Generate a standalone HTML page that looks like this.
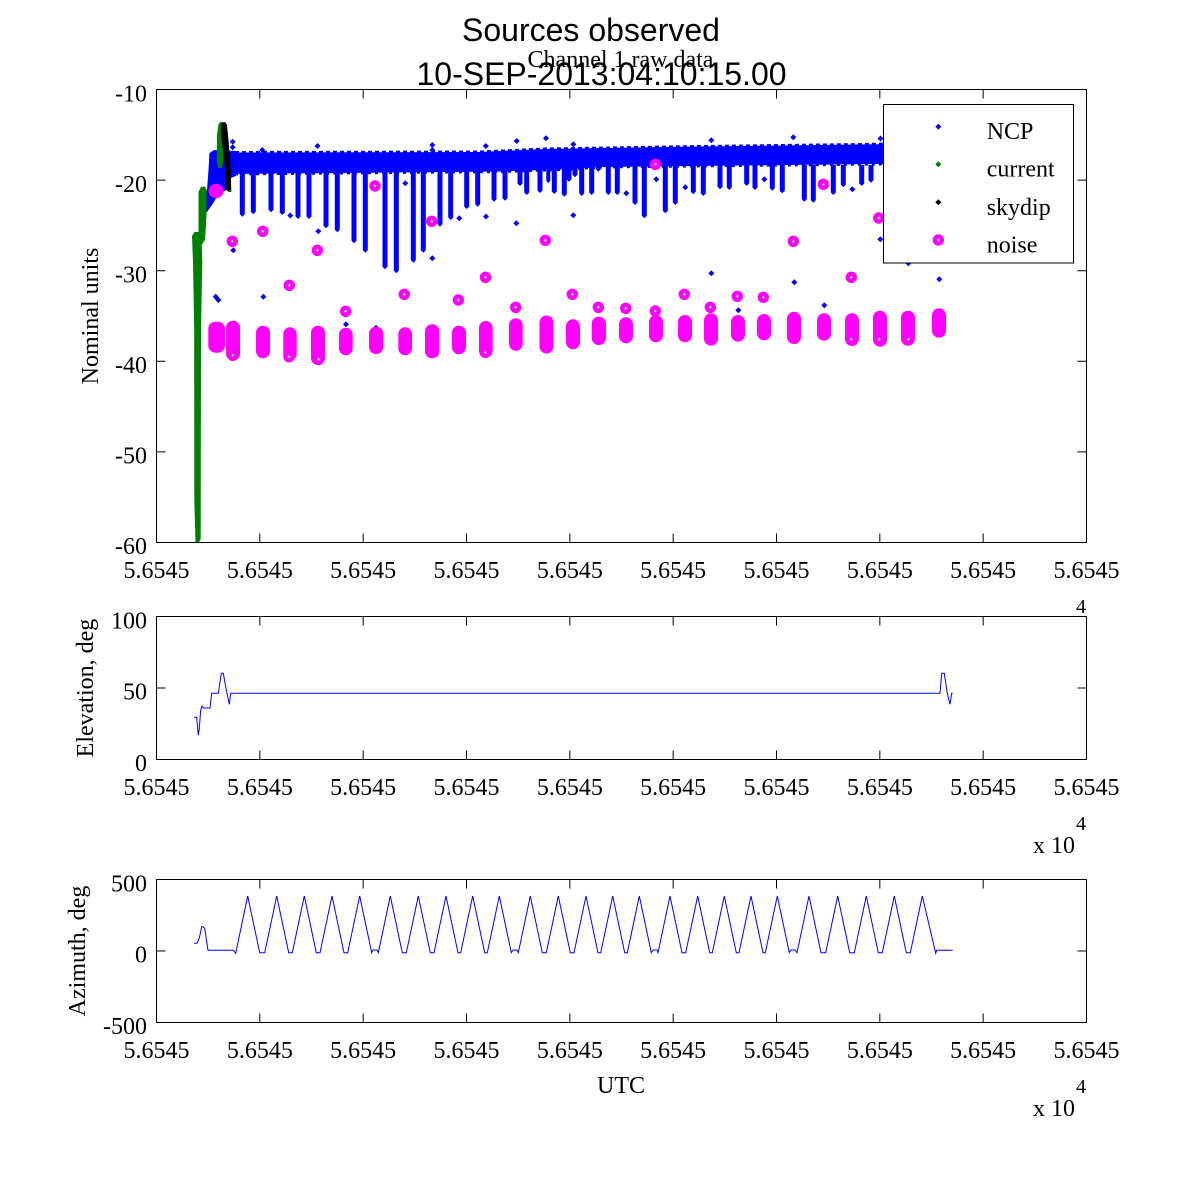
<!DOCTYPE html>
<html><head><meta charset="utf-8"><style>
html,body{margin:0;padding:0;background:#fff;}
svg{display:block;}
.t{font-family:"Liberation Serif",serif;font-size:24px;fill:#000;}
.s{font-family:"Liberation Sans",sans-serif;font-size:32px;fill:#000;}
</style></head><body>
<svg width="1200" height="1200" viewBox="0 0 1200 1200" xmlns="http://www.w3.org/2000/svg">
<rect width="1200" height="1200" fill="#fff"/>

<!-- ===== MAIN PLOT ===== -->
<!-- NCP band -->
<polygon fill="#0000ff" points="228,152.5 480,152 545,149 700,146.5 860,144.5 945,143 945,164 880,164 600,167 560,169.5 500,171.5 228,174"/>
<polyline fill="none" stroke="#0000ff" stroke-width="3" stroke-dasharray="4 3" points="228,152.5 480,152 545,149 700,146.5 860,144.5 945,143"/>
<polyline fill="none" stroke="#0000ff" stroke-width="3" stroke-dasharray="3 4" points="228,174 500,171.5 560,169.5 600,167 880,164 945,164"/>
<!-- left blue region -->
<polygon fill="#0000ff" points="209.5,153 214,150 236,151 236,176 231,178 226,190 218,195 212,205 207,212 203.5,211.5 204,200 207,190 208.5,170"/>
<!-- spikes -->
<path fill="#0000ff" d="M239.8 165h5V214.2l-2.5 2.5l-2.5-2.5z M250.8 165h5V211.8l-2.5 2.5l-2.5-2.5z M268.5 165h5V209.8l-2.5 2.5l-2.5-2.5z M279.8 165h5V212.5l-2.5 2.5l-2.5-2.5z M295.5 165h5V216.5l-2.5 2.5l-2.5-2.5z M306.5 165h5V216.5l-2.5 2.5l-2.5-2.5z M323.5 165h5V225.8l-2.5 2.5l-2.5-2.5z M334.8 165h5V229.8l-2.5 2.5l-2.5-2.5z M351.5 165h5V240.8l-2.5 2.5l-2.5-2.5z M362.8 165h5V250.2l-2.5 2.5l-2.5-2.5z M382.5 165h5V266.8l-2.5 2.5l-2.5-2.5z M393.8 165h5V270.8l-2.5 2.5l-2.5-2.5z M410.8 165h5V260.2l-2.5 2.5l-2.5-2.5z M420.8 165h5V250.2l-2.5 2.5l-2.5-2.5z M437.5 165h5V224.2l-2.5 2.5l-2.5-2.5z M448.2 165h5V217.5l-2.5 2.5l-2.5-2.5z M464.2 165h5V206.5l-2.5 2.5l-2.5-2.5z M475.2 165h5V204.2l-2.5 2.5l-2.5-2.5z M491.5 165h5V199.2l-2.5 2.5l-2.5-2.5z M502.5 165h5V198.2l-2.5 2.5l-2.5-2.5z M517.5 165h5V183.5l-2.5 2.5l-2.5-2.5z M524.2 165h5V192.5l-2.5 2.5l-2.5-2.5z M537.5 165h5V190.5l-2.5 2.5l-2.5-2.5z M546.3 165h4V180.8l-2 2.5l-2-2.5z M551.8 165h5V191.5l-2.5 2.5l-2.5-2.5z M561.8 165h5V194.2l-2.5 2.5l-2.5-2.5z M566.5 165h5V179.2l-2.5 2.5l-2.5-2.5z M572.5 165h5V174.8l-2.5 2.5l-2.5-2.5z M579.2 165h5V193.5l-2.5 2.5l-2.5-2.5z M589.2 165h5V192.5l-2.5 2.5l-2.5-2.5z M595.8 165h5V169.2l-2.5 2.5l-2.5-2.5z M605.8 165h5V192.5l-2.5 2.5l-2.5-2.5z M614.8 165h5V192.5l-2.5 2.5l-2.5-2.5z M632.5 165h5V202.5l-2.5 2.5l-2.5-2.5z M641.8 165h5V215.8l-2.5 2.5l-2.5-2.5z M662.8 165h5V210.8l-2.5 2.5l-2.5-2.5z M672.8 165h5V202.5l-2.5 2.5l-2.5-2.5z M690.8 165h5V191.8l-2.5 2.5l-2.5-2.5z M700.8 165h5V193.5l-2.5 2.5l-2.5-2.5z M717.5 165h5V186.8l-2.5 2.5l-2.5-2.5z M726.8 165h5V187.5l-2.5 2.5l-2.5-2.5z M744.2 165h5V183.5l-2.5 2.5l-2.5-2.5z M752.5 165h5V187.5l-2.5 2.5l-2.5-2.5z M769.8 165h5V188.2l-2.5 2.5l-2.5-2.5z M779.8 165h5V190.8l-2.5 2.5l-2.5-2.5z M801.8 165h5V199.2l-2.5 2.5l-2.5-2.5z M810.8 165h5V200.2l-2.5 2.5l-2.5-2.5z M830.8 165h5V192.5l-2.5 2.5l-2.5-2.5z M840.8 165h5V184.8l-2.5 2.5l-2.5-2.5z M859.2 165h5V183.5l-2.5 2.5l-2.5-2.5z M868.5 165h5V180.2l-2.5 2.5l-2.5-2.5z"/>
<!-- blue outlier dots -->
<path fill="#0000ff" d="M232.7 138.7l3 3l-3 3l-3-3z M232.7 144.3l3 3l-3 3l-3-3z M262.3 147l3 3l-3 3l-3-3z M317.5 143l3 3l-3 3l-3-3z M432.3 142l3 3l-3 3l-3-3z M432.3 147l3 3l-3 3l-3-3z M485.8 143l3 3l-3 3l-3-3z M516.7 138l3 3l-3 3l-3-3z M546 135.3l3 3l-3 3l-3-3z M573.3 141.3l3 3l-3 3l-3-3z M711.3 137.3l3 3l-3 3l-3-3z M793.3 134.3l3 3l-3 3l-3-3z M880.5 135.5l3 3l-3 3l-3-3z M405.3 180.3l3 3l-3 3l-3-3z M290.3 212.5l3 3l-3 3l-3-3z M318.3 228.3l3 3l-3 3l-3-3z M432.3 255.3l3 3l-3 3l-3-3z M459.3 215.3l3 3l-3 3l-3-3z M486 213.5l3 3l-3 3l-3-3z M516.3 220.3l3 3l-3 3l-3-3z M233.3 247.3l3 3l-3 3l-3-3z M215.7 293.7l3 3l-3 3l-3-3z M218.3 297l3 3l-3 3l-3-3z M263.3 293.7l3 3l-3 3l-3-3z M346 321.3l3 3l-3 3l-3-3z M573.3 212.3l3 3l-3 3l-3-3z M656.3 176.3l3 3l-3 3l-3-3z M685.3 184.3l3 3l-3 3l-3-3z M626.3 190.3l3 3l-3 3l-3-3z M764.3 176.3l3 3l-3 3l-3-3z M852.3 186.3l3 3l-3 3l-3-3z M880.3 236.3l3 3l-3 3l-3-3z M711.3 270.3l3 3l-3 3l-3-3z M794.3 279.3l3 3l-3 3l-3-3z M824.3 302.3l3 3l-3 3l-3-3z M738.3 307.3l3 3l-3 3l-3-3z M939.3 276.3l3 3l-3 3l-3-3z M908.3 260.3l3 3l-3 3l-3-3z M376 324.7l3 3l-3 3l-3-3z"/>

<!-- current (green) -->
<g fill="#008000">
<polygon points="192,236 194.5,232 198.5,232 201.5,240 202.3,262 201,330 200.7,539 198.5,543 195.5,543 194.3,500 194.2,330 193,262"/>
<polygon points="198.5,192 201,187 205,186.5 206.7,190 206.5,215 205,240 201.5,245 198.5,245"/>
<polygon points="217,135 218.5,124 221,121.5 223.3,123 223.3,160 222,168 218,168 216.7,160"/>
<polygon points="228.5,186 231,186 231.5,192 228.5,192"/>
</g>
<!-- skydip (black) -->
<polygon fill="#000" points="220.7,126 222,122.5 225,122 227,125 228.5,140 230.5,165 231.2,189 229,192 226.2,190 225.5,170 223,150 221,135"/>

<!-- noise (magenta) -->
<g fill="#ff00ff">
<ellipse cx="216" cy="191" rx="7.5" ry="7.2"/>
<rect x="208.3" y="321.7" width="16.7" height="31" rx="7"/>
<rect x="226" y="320.7" width="14" height="40" rx="7"/>
<rect x="256" y="325.7" width="14" height="32.6" rx="7"/>
<rect x="283.3" y="327.3" width="13.4" height="33.4" rx="6.7"/>
<rect x="311" y="325.7" width="14" height="39.3" rx="7"/>
<rect x="339" y="327.7" width="13.7" height="27.6" rx="6.8"/>
<rect x="369" y="326.7" width="14.3" height="27.3" rx="7"/>
<rect x="398.3" y="327.3" width="13.7" height="28" rx="6.8"/>
<rect x="425" y="324.3" width="14.3" height="34" rx="7"/>
<rect x="452" y="325.7" width="14" height="28.6" rx="7"/>
<rect x="479" y="321" width="13.7" height="36.7" rx="6.8"/>
<rect x="509" y="318.3" width="13.7" height="32.4" rx="6.8"/>
<rect x="539.5" y="315.5" width="14" height="38" rx="7"/>
<rect x="566" y="319.3" width="14" height="30" rx="7"/>
<rect x="591.7" y="316.7" width="14.3" height="28.3" rx="7"/>
<rect x="619" y="317.3" width="14" height="26" rx="7"/>
<rect x="649" y="315" width="14" height="27.3" rx="7"/>
<rect x="678" y="315" width="14" height="27.3" rx="7"/>
<rect x="704" y="313.3" width="14" height="32.4" rx="7"/>
<rect x="731" y="315" width="14" height="26.7" rx="7"/>
<rect x="757" y="314" width="14" height="26.3" rx="7"/>
<rect x="787" y="311.7" width="14" height="32.3" rx="7"/>
<rect x="817" y="313.3" width="14" height="27.4" rx="7"/>
<rect x="845" y="313.3" width="14" height="32.7" rx="7"/>
<rect x="873" y="310.7" width="14" height="36" rx="7"/>
<rect x="901" y="310.7" width="14" height="35" rx="7"/>
<rect x="932" y="308.3" width="14" height="29.4" rx="7"/>
<circle cx="232.3" cy="241.3" r="5.7"/><circle cx="262.7" cy="231.3" r="5.7"/><circle cx="289.3" cy="285.3" r="5.7"/>
<circle cx="317.3" cy="250.3" r="5.7"/><circle cx="345.7" cy="311.3" r="5.7"/><circle cx="375" cy="186" r="5.7"/>
<circle cx="404.3" cy="294.3" r="5.7"/><circle cx="431.7" cy="221.3" r="5.7"/><circle cx="458.3" cy="300" r="5.7"/>
<circle cx="485.5" cy="277.3" r="5.7"/><circle cx="515.7" cy="307.3" r="5.7"/><circle cx="545.3" cy="240.3" r="5.7"/>
<circle cx="572.3" cy="294.3" r="5.7"/><circle cx="598.3" cy="307.3" r="5.7"/><circle cx="625.7" cy="308.3" r="5.7"/>
<circle cx="655.3" cy="164.3" r="5.7"/><circle cx="655.3" cy="311" r="5.7"/><circle cx="684.3" cy="294.3" r="5.7"/>
<circle cx="710.3" cy="307.3" r="5.7"/><circle cx="737.3" cy="296.3" r="5.7"/><circle cx="763.3" cy="297.3" r="5.7"/>
<circle cx="793.3" cy="241.3" r="5.7"/><circle cx="823.3" cy="184.3" r="5.7"/><circle cx="851.3" cy="277.3" r="5.7"/>
<circle cx="878.8" cy="218" r="5.7"/>
<circle cx="232.7" cy="355.3" r="5.7"/><circle cx="289" cy="356.7" r="5.7"/><circle cx="318.7" cy="359.3" r="5.7"/>
<circle cx="485.3" cy="352.3" r="5.7"/><circle cx="546" cy="347" r="5.7"/><circle cx="851.3" cy="339.3" r="5.7"/>
<circle cx="879.3" cy="339.3" r="5.7"/><circle cx="908.3" cy="339.3" r="5.7"/>
</g>
<path stroke="#80ff80" stroke-width="1" fill="none" d="M230.8 241.3h3M232.3 239.8v3 M261.2 231.3h3M262.7 229.8v3 M287.8 285.3h3M289.3 283.8v3 M315.8 250.3h3M317.3 248.8v3 M344.2 311.3h3M345.7 309.8v3 M373.5 186h3M375 184.5v3 M402.8 294.3h3M404.3 292.8v3 M430.2 221.3h3M431.7 219.8v3 M456.8 300h3M458.3 298.5v3 M484 277.3h3M485.5 275.8v3 M514.2 307.3h3M515.7 305.8v3 M543.8 240.3h3M545.3 238.8v3 M570.8 294.3h3M572.3 292.8v3 M596.8 307.3h3M598.3 305.8v3 M624.2 308.3h3M625.7 306.8v3 M653.8 164.3h3M655.3 162.8v3 M653.8 311h3M655.3 309.5v3 M682.8 294.3h3M684.3 292.8v3 M708.8 307.3h3M710.3 305.8v3 M735.8 296.3h3M737.3 294.8v3 M761.8 297.3h3M763.3 295.8v3 M791.8 241.3h3M793.3 239.8v3 M821.8 184.3h3M823.3 182.8v3 M849.8 277.3h3M851.3 275.8v3 M877.3 218h3M878.8 216.5v3 M231.2 355.3h3M232.7 353.8v3 M287.5 356.7h3M289 355.2v3 M317.2 359.3h3M318.7 357.8v3 M483.8 352.3h3M485.3 350.8v3 M849.8 339.3h3M851.3 337.8v3 M877.8 339.3h3M879.3 337.8v3 M906.8 339.3h3M908.3 337.8v3"/>

<!-- legend -->
<rect x="883.5" y="104.5" width="190" height="158.5" fill="#fff" stroke="#000" stroke-width="1"/>
<path fill="#0000ff" d="M938.3 123.7l3 3l-3 3l-3-3z"/>
<path fill="#008000" d="M938.3 161.3l3 3l-3 3l-3-3z"/>
<path fill="#000" d="M938.3 199.3l3 3l-3 3l-3-3z"/>
<circle cx="938.3" cy="240" r="5.7" fill="#ff00ff"/>
<path stroke="#80ff80" stroke-width="1" d="M936.8 240h3M938.3 238.5v3"/>
<text class="t" x="986.7" y="139">NCP</text>
<text class="t" x="986.7" y="176.7">current</text>
<text class="t" x="986.7" y="215">skydip</text>
<text class="t" x="986.7" y="252.7">noise</text>

<!-- main axes -->
<rect x="156.5" y="89.5" width="930" height="453" fill="none" stroke="#000" stroke-width="1"/>
<path stroke="#000" stroke-width="1" fill="none" d="
M259.83 542.5v-9M363.17 542.5v-9M466.5 542.5v-9M569.83 542.5v-9M673.17 542.5v-9M776.5 542.5v-9M879.83 542.5v-9M983.17 542.5v-9
M259.83 89.5v9M363.17 89.5v9M466.5 89.5v9M569.83 89.5v9M673.17 89.5v9M776.5 89.5v9M879.83 89.5v9M983.17 89.5v9
M156.5 180.1h9M156.5 270.7h9M156.5 361.3h9M156.5 451.9h9
M1086.5 180.1h-9M1086.5 270.7h-9M1086.5 361.3h-9M1086.5 451.9h-9"/>
<g class="t" text-anchor="end">
<text x="147" y="101.5">-10</text><text x="147" y="192">-20</text><text x="147" y="282.5">-30</text>
<text x="147" y="373">-40</text><text x="147" y="463.5">-50</text><text x="147" y="554">-60</text>
</g>
<g class="t" text-anchor="middle">
<text x="156.5" y="578">5.6545</text><text x="259.83" y="578">5.6545</text><text x="363.17" y="578">5.6545</text>
<text x="466.5" y="578">5.6545</text><text x="569.83" y="578">5.6545</text><text x="673.17" y="578">5.6545</text>
<text x="776.5" y="578">5.6545</text><text x="879.83" y="578">5.6545</text><text x="983.17" y="578">5.6545</text>
<text x="1086.5" y="578">5.6545</text>
</g>
<text class="t" x="0" y="0" text-anchor="middle" transform="translate(98,316) rotate(-90)">Nominal units</text>
<text class="t" x="1081" y="613" text-anchor="middle" style="font-size:20px">4</text>

<!-- titles -->
<text class="t" x="620.5" y="67" text-anchor="middle">Channel 1 raw data</text>
<text class="s" x="591" y="41" text-anchor="middle">Sources observed</text>
<text class="s" x="601.5" y="85" text-anchor="middle">10-SEP-2013:04:10:15.00</text>

<!-- ===== ELEVATION ===== -->
<polyline fill="none" stroke="#0000ff" stroke-width="1" points="194,717.3 196.7,717.3 198.3,735.3 199.3,728.3 200.7,710 202,706 203.3,708 210,708 211.7,693.3 218.3,693.3 221.3,673.3 223.3,673.3 225.7,686.7 227.7,696.7 229.3,704.3 230.7,693.3 940,693.3 941.7,673.3 944.3,673.3 947.3,693.3 950,704.3 951.7,693.3 952.7,693.3"/>
<rect x="156.5" y="616.5" width="930" height="143" fill="none" stroke="#000" stroke-width="1"/>
<path stroke="#000" stroke-width="1" fill="none" d="
M259.83 759.5v-9M363.17 759.5v-9M466.5 759.5v-9M569.83 759.5v-9M673.17 759.5v-9M776.5 759.5v-9M879.83 759.5v-9M983.17 759.5v-9
M259.83 616.5v9M363.17 616.5v9M466.5 616.5v9M569.83 616.5v9M673.17 616.5v9M776.5 616.5v9M879.83 616.5v9M983.17 616.5v9
M156.5 688h9M1086.5 688h-9"/>
<g class="t" text-anchor="end">
<text x="147" y="628.5">100</text><text x="147" y="699.5">50</text><text x="147" y="771">0</text>
</g>
<g class="t" text-anchor="middle">
<text x="156.5" y="795">5.6545</text><text x="259.83" y="795">5.6545</text><text x="363.17" y="795">5.6545</text>
<text x="466.5" y="795">5.6545</text><text x="569.83" y="795">5.6545</text><text x="673.17" y="795">5.6545</text>
<text x="776.5" y="795">5.6545</text><text x="879.83" y="795">5.6545</text><text x="983.17" y="795">5.6545</text>
<text x="1086.5" y="795">5.6545</text>
</g>
<text class="t" x="0" y="0" text-anchor="middle" transform="translate(93,688) rotate(-90)">Elevation, deg</text>
<text class="t" x="1075" y="853" text-anchor="end">x 10</text>
<text class="t" x="1081" y="830" text-anchor="middle" style="font-size:20px">4</text>

<!-- ===== AZIMUTH ===== -->
<polyline fill="none" stroke="#0000ff" stroke-width="1" points="194,943.3 197,943.3 199.3,938 201.7,926.7 203,926.7 204.7,928.3 208,950.3 233.3,950.3 235.7,953.3 247.7,896
259.7,952.7 264.7,952.7 276.7,896
288.7,952.7 292.3,952.7 304.3,896
316.3,952.7 320,952.7 332,896
344,952.7 347.7,952.7 359.7,896
371.7,952.7 373,950 377,950 378.3,952.7 390.3,896
402.3,952.7 406.3,952.7 418.3,896
430.3,952.7 434,952.7 446,896
458,952.7 460.7,952.7 472.7,896
484.7,952.7 487.3,952.7 499.3,896
511.3,952.7 513,950 517,950 518.3,952.7 530.3,896
542.3,952.7 546.3,952.7 558.3,896
570.3,952.7 574,952.7 586,896
598,952.7 600.7,952.7 612.7,896
624.7,952.7 627.3,952.7 639.3,896
651.3,952.7 653,950 657,950 658,952.7 670,896
682,952.7 685.7,952.7 697.7,896
709.7,952.7 712.3,952.7 724.3,896
736.3,952.7 739,952.7 751,896
763,952.7 765.3,952.7 777.3,896
789.3,952.7 791,950 795,950 797,952.7 809,896
821,952.7 825.7,952.7 837.7,896
849.7,952.7 854.3,952.7 866.3,896
878.3,952.7 882.3,952.7 894.3,896
906.3,952.7 910.3,952.7 922.3,896
935.7,953.3 936.7,950.3 952.7,950.3"/>
<rect x="156.5" y="879.5" width="930" height="143" fill="none" stroke="#000" stroke-width="1"/>
<path stroke="#000" stroke-width="1" fill="none" d="
M259.83 1022.5v-9M363.17 1022.5v-9M466.5 1022.5v-9M569.83 1022.5v-9M673.17 1022.5v-9M776.5 1022.5v-9M879.83 1022.5v-9M983.17 1022.5v-9
M259.83 879.5v9M363.17 879.5v9M466.5 879.5v9M569.83 879.5v9M673.17 879.5v9M776.5 879.5v9M879.83 879.5v9M983.17 879.5v9
M156.5 951h9M1086.5 951h-9"/>
<g class="t" text-anchor="end">
<text x="147" y="891.5">500</text><text x="147" y="962.5">0</text><text x="147" y="1034">-500</text>
</g>
<g class="t" text-anchor="middle">
<text x="156.5" y="1058">5.6545</text><text x="259.83" y="1058">5.6545</text><text x="363.17" y="1058">5.6545</text>
<text x="466.5" y="1058">5.6545</text><text x="569.83" y="1058">5.6545</text><text x="673.17" y="1058">5.6545</text>
<text x="776.5" y="1058">5.6545</text><text x="879.83" y="1058">5.6545</text><text x="983.17" y="1058">5.6545</text>
<text x="1086.5" y="1058">5.6545</text>
</g>
<text class="t" x="0" y="0" text-anchor="middle" transform="translate(85,951) rotate(-90)">Azimuth, deg</text>
<text class="t" x="621" y="1093" text-anchor="middle">UTC</text>
<text class="t" x="1075" y="1116" text-anchor="end">x 10</text>
<text class="t" x="1081" y="1093" text-anchor="middle" style="font-size:20px">4</text>
</svg>
</body></html>
